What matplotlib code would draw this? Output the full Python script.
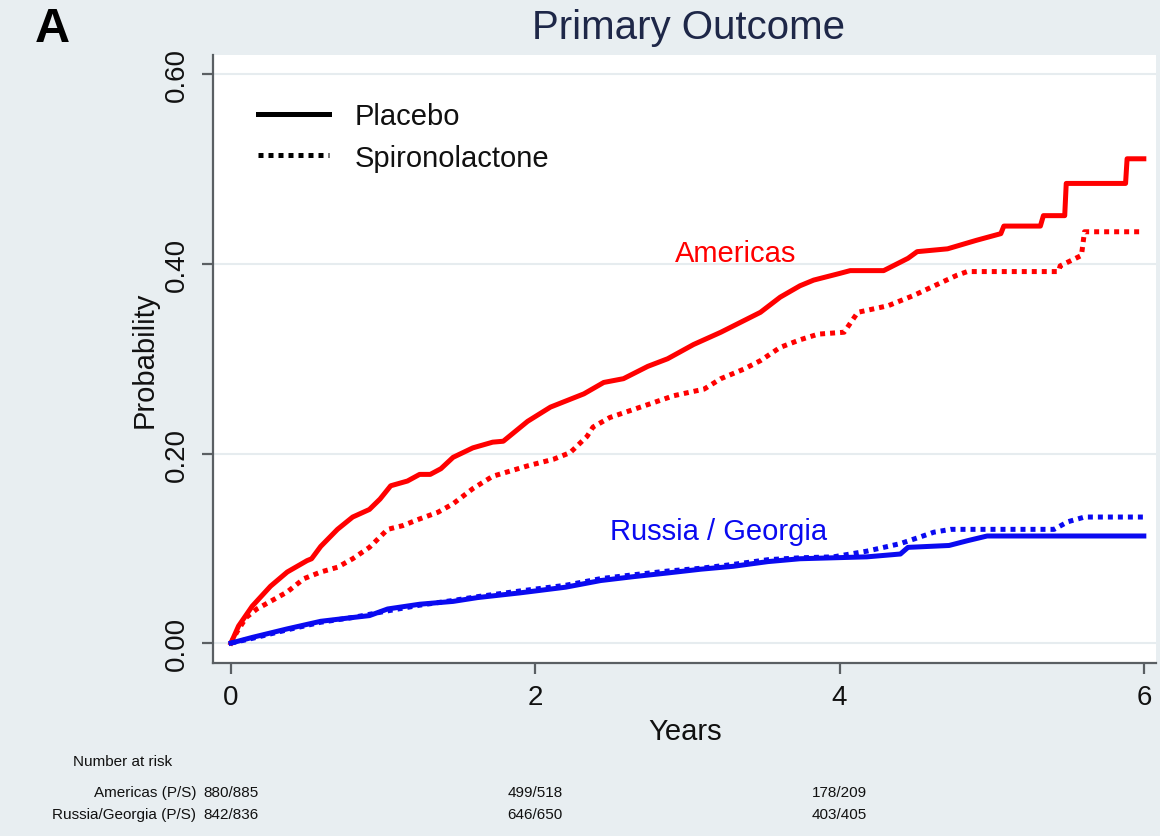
import matplotlib
matplotlib.use("Agg")
import matplotlib.pyplot as plt
from matplotlib.lines import Line2D
from matplotlib.transforms import blended_transform_factory

plt.rcParams['font.family'] = ['Liberation Sans', 'DejaVu Sans']

# ---------------- data ----------------
am_plac_t = [0, 0.05, 0.14, 0.26, 0.37, 0.50, 0.53, 0.59, 0.70, 0.80, 0.91, 0.98, 1.05, 1.16,
             1.24, 1.31, 1.38, 1.46, 1.59, 1.72, 1.79, 1.95, 2.10, 2.32, 2.45, 2.58, 2.74,
             2.87, 3.04, 3.22, 3.48, 3.61, 3.74, 3.83, 4.00, 4.07, 4.29, 4.45, 4.51, 4.71,
             4.90, 5.06, 5.08, 5.32, 5.34, 5.48, 5.49, 5.88, 5.89, 6.00]
am_plac_p = [0, 0.018, 0.039, 0.060, 0.075, 0.087, 0.089, 0.102, 0.120, 0.133, 0.141, 0.152,
             0.166, 0.171, 0.178, 0.178, 0.184, 0.196, 0.206, 0.212, 0.213, 0.234, 0.249,
             0.263, 0.275, 0.279, 0.292, 0.300, 0.315, 0.328, 0.349, 0.365, 0.377, 0.383,
             0.390, 0.393, 0.393, 0.406, 0.413, 0.416, 0.425, 0.432, 0.440, 0.440, 0.451,
             0.451, 0.485, 0.485, 0.511, 0.511]

am_spir_t = [0, 0.04, 0.10, 0.17, 0.26, 0.37, 0.48, 0.59, 0.70, 0.80, 0.91, 1.03, 1.13, 1.24,
             1.36, 1.46, 1.59, 1.72, 1.95, 2.12, 2.23, 2.34, 2.38, 2.49, 2.71, 2.91, 3.11,
             3.22, 3.37, 3.48, 3.61, 3.74, 3.86, 4.03, 4.12, 4.32, 4.49, 4.77, 4.84, 5.44,
             5.45, 5.59, 5.61, 6.00]
am_spir_p = [0, 0.012, 0.027, 0.036, 0.044, 0.054, 0.068, 0.075, 0.080, 0.089, 0.101, 0.120,
             0.124, 0.131, 0.138, 0.147, 0.163, 0.176, 0.187, 0.194, 0.201, 0.218, 0.228,
             0.238, 0.250, 0.261, 0.268, 0.279, 0.289, 0.298, 0.312, 0.320, 0.326, 0.328,
             0.349, 0.356, 0.367, 0.388, 0.392, 0.392, 0.398, 0.409, 0.434, 0.434]

ru_plac_t = [0, 0.14, 0.37, 0.59, 0.80, 0.91, 1.03, 1.24, 1.46, 1.62, 1.90, 2.20, 2.43, 2.64,
             2.87, 3.09, 3.30, 3.53, 3.74, 3.96, 4.18, 4.40, 4.45, 4.72, 4.84, 4.97, 6.00]
ru_plac_p = [0, 0.006, 0.015, 0.023, 0.027, 0.029, 0.036, 0.041, 0.044, 0.048, 0.053, 0.059,
             0.066, 0.070, 0.074, 0.078, 0.081, 0.086, 0.089, 0.090, 0.091, 0.094, 0.101,
             0.103, 0.108, 0.113, 0.113]

ru_spir_t = [0, 0.14, 0.37, 0.59, 0.80, 1.03, 1.24, 1.46, 1.62, 1.90, 2.20, 2.43, 2.64, 2.87,
             3.09, 3.30, 3.53, 3.74, 3.96, 4.18, 4.40, 4.53, 4.62, 4.73, 5.41, 5.50, 5.61, 6.00]
ru_spir_p = [0, 0.005, 0.014, 0.022, 0.027, 0.034, 0.040, 0.045, 0.049, 0.055, 0.061, 0.068,
             0.072, 0.076, 0.079, 0.083, 0.088, 0.090, 0.091, 0.097, 0.105, 0.112, 0.117,
             0.120, 0.120, 0.128, 0.133, 0.133]

x_ticks = [0, 2, 4, 6]
y_ticks = [0.0, 0.2, 0.4, 0.6]
y_ticklabels = ["0.00", "0.20", "0.40", "0.60"]

risk_years = [0, 2, 4]
risk_americas = ["880/885", "499/518", "178/209"]
risk_russia = ["842/836", "646/650", "403/405"]

# ---------------- figure ----------------
BG = '#E8EEF1'
W, H = 1160, 837
fig = plt.figure(figsize=(W / 100, H / 100), dpi=100, facecolor=BG)
ax = fig.add_axes([213 / W, 1 - 664 / H, (1156 - 213) / W, (664 - 56) / H])
ax.set_facecolor('white')
ax.set_xlim(-0.118, 6.08)
ax.set_ylim(-0.021, 0.6205)

for yv in y_ticks:
    ax.axhline(yv, color='#E6ECEF', lw=1.5, zorder=0)

RED = '#FF0000'
BLUE = '#0A0AF0'
LW = 3.6
dot = (0, (1, 1))
ax.plot(am_plac_t, am_plac_p, color=RED, lw=LW, solid_joinstyle='round')
ax.plot(am_spir_t, am_spir_p, color=RED, lw=LW, linestyle=dot, dash_capstyle='butt')
ax.plot(ru_plac_t, ru_plac_p, color=BLUE, lw=LW, solid_joinstyle='round')
ax.plot(ru_spir_t, ru_spir_p, color=BLUE, lw=LW, linestyle=dot, dash_capstyle='butt')

ax.text(3.316, 0.403, "Americas", color=RED, fontsize=21, ha='center', va='baseline')
ax.text(3.204, 0.1097, "Russia / Georgia", color=BLUE, fontsize=21, ha='center', va='baseline')

# spines & ticks
for s in ['top', 'right']:
    ax.spines[s].set_visible(False)
for s in ['left', 'bottom']:
    ax.spines[s].set_color('#5A5F63')
    ax.spines[s].set_linewidth(1.6)

ax.set_xticks(x_ticks)
ax.set_xticklabels([str(v) for v in x_ticks])
ax.set_yticks(y_ticks)
ax.set_yticklabels(y_ticklabels)
ax.tick_params(axis='both', colors='#5A5F63', labelcolor='#111111', labelsize=20,
               length=8, width=1.6, direction='out')
ax.tick_params(axis='x', pad=7)
ax.tick_params(axis='y', pad=9)
for lab in ax.get_yticklabels():
    lab.set_rotation(90)
    lab.set_va('center')
    lab.set_ha('right')

# legend
handles = [Line2D([], [], color='black', lw=LW),
           Line2D([], [], color='black', lw=LW, linestyle=dot, dash_capstyle='butt')]
leg = ax.legend(handles, ["Placebo", "Spironolactone"], loc='upper left',
                bbox_to_anchor=(0.0477, 0.922), frameon=False, fontsize=21,
                handlelength=2.45, handletextpad=0.85, labelspacing=0.45,
                borderpad=0, borderaxespad=0)
for t in leg.get_texts():
    t.set_color('#111111')

# labels and title
fig.text(145 / W, 1 - 360 / H, "Probability", rotation=90, fontsize=21,
         ha='center', va='center', color='#111111')
fig.text(685 / W, 1 - 732 / H, "Years", fontsize=21, ha='center', va='center',
         color='#111111')
fig.text(688 / W, 1 - 28 / H, "Primary Outcome", fontsize=29, ha='center', va='center',
         color='#1E2748')
fig.text(35 / W, 1 - 29 / H, "A", fontsize=35, fontweight='bold', ha='left', va='center',
         color='black')

# number at risk table
tr = blended_transform_factory(ax.transData, fig.transFigure)
small = 11
fig.text(73 / W, 1 - 762 / H, "Number at risk", fontsize=small, ha='left', va='center',
         color='#111111')
fig.text(196 / W, 1 - 793 / H, "Americas (P/S)", fontsize=small, ha='right', va='center',
         color='#111111')
fig.text(196 / W, 1 - 815 / H, "Russia/Georgia (P/S)", fontsize=small, ha='right',
         va='center', color='#111111')
for yr, a, r in zip(risk_years, risk_americas, risk_russia):
    ax.text(yr, 1 - 793 / H, a, transform=tr, fontsize=small, ha='center', va='center',
            color='#111111')
    ax.text(yr, 1 - 815 / H, r, transform=tr, fontsize=small, ha='center', va='center',
            color='#111111')

fig.savefig("out.png", dpi=100, facecolor=BG)
